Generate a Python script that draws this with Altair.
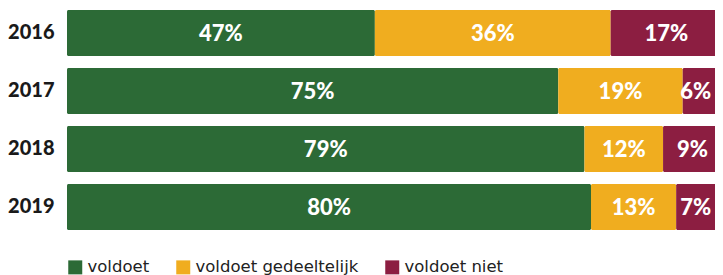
import altair as alt
import pandas as pd

years = ["2016", "2017", "2018", "2019"]
categories = ["voldoet", "voldoet gedeeltelijk", "voldoet niet"]
voldoet = [47, 75, 79, 80]
gedeeltelijk = [36, 19, 12, 13]
niet = [17, 6, 9, 7]
colors = ["#2c6a36", "#f0ad1f", "#8c1e41"]

rows = []
for i, y in enumerate(years):
    for k, (cat, vals) in enumerate(zip(categories, [voldoet, gedeeltelijk, niet])):
        rows.append({"jaar": y, "categorie": cat, "order": k, "waarde": vals[i],
                     "label": f"{vals[i]}%"})
df = pd.DataFrame(rows)

base = alt.Chart(df).transform_stack(
    stack="waarde", groupby=["jaar"], as_=["x0", "x1"],
    sort=[alt.SortField("order", order="ascending")]
).transform_calculate(mid="min((datum.x0 + datum.x1) / 2, 96.0)")

# plot area is 648 px wide, but 100% of the bar spans 655 px (reference is cropped)
xscale = alt.Scale(domain=[0, 98.93], nice=False, zero=True)
yenc = alt.Y("jaar:N", sort=years, title=None,
             scale=alt.Scale(paddingInner=0.207, paddingOuter=0),
             axis=alt.Axis(ticks=False, domain=False, labelPadding=13,
                           labelFont="Lato", labelFontWeight=900,
                           labelFontSize=20, labelColor="#1a1a1a"))

bars = base.mark_bar(cornerRadius=1.5, clip=True).encode(
    x=alt.X("x0:Q", scale=xscale, axis=None),
    x2="x1:Q",
    y=yenc,
    color=alt.Color("categorie:N", sort=categories,
                    scale=alt.Scale(domain=categories, range=colors),
                    legend=alt.Legend(title=None, orient="none", direction="horizontal",
                                      legendX=0, legendY=249,
                                      symbolType="square", symbolSize=196,
                                      symbolStrokeWidth=0, symbolOpacity=1,
                                      labelFont="DejaVu Sans", labelFontSize=16.5,
                                      labelColor="#222222", labelOffset=4,
                                      labelLimit=400, columnPadding=25)),
)

labels = base.mark_text(font="Lato", fontWeight=900, fontSize=22,
                        color="white", baseline="middle", align="center", dy=1).encode(
    x=alt.X("mid:Q", scale=xscale, axis=None),
    y=alt.Y("jaar:N", sort=years),
    text="label:N",
)

chart = alt.layer(bars, labels).properties(
    width=648, height=220,
    autosize=alt.AutoSizeParams(type="none"),
    padding={"left": 59, "top": 2, "right": 0, "bottom": 50},
).configure_view(stroke=None)

chart.save("out.html", embed_options={"renderer": "svg", "actions": False})
